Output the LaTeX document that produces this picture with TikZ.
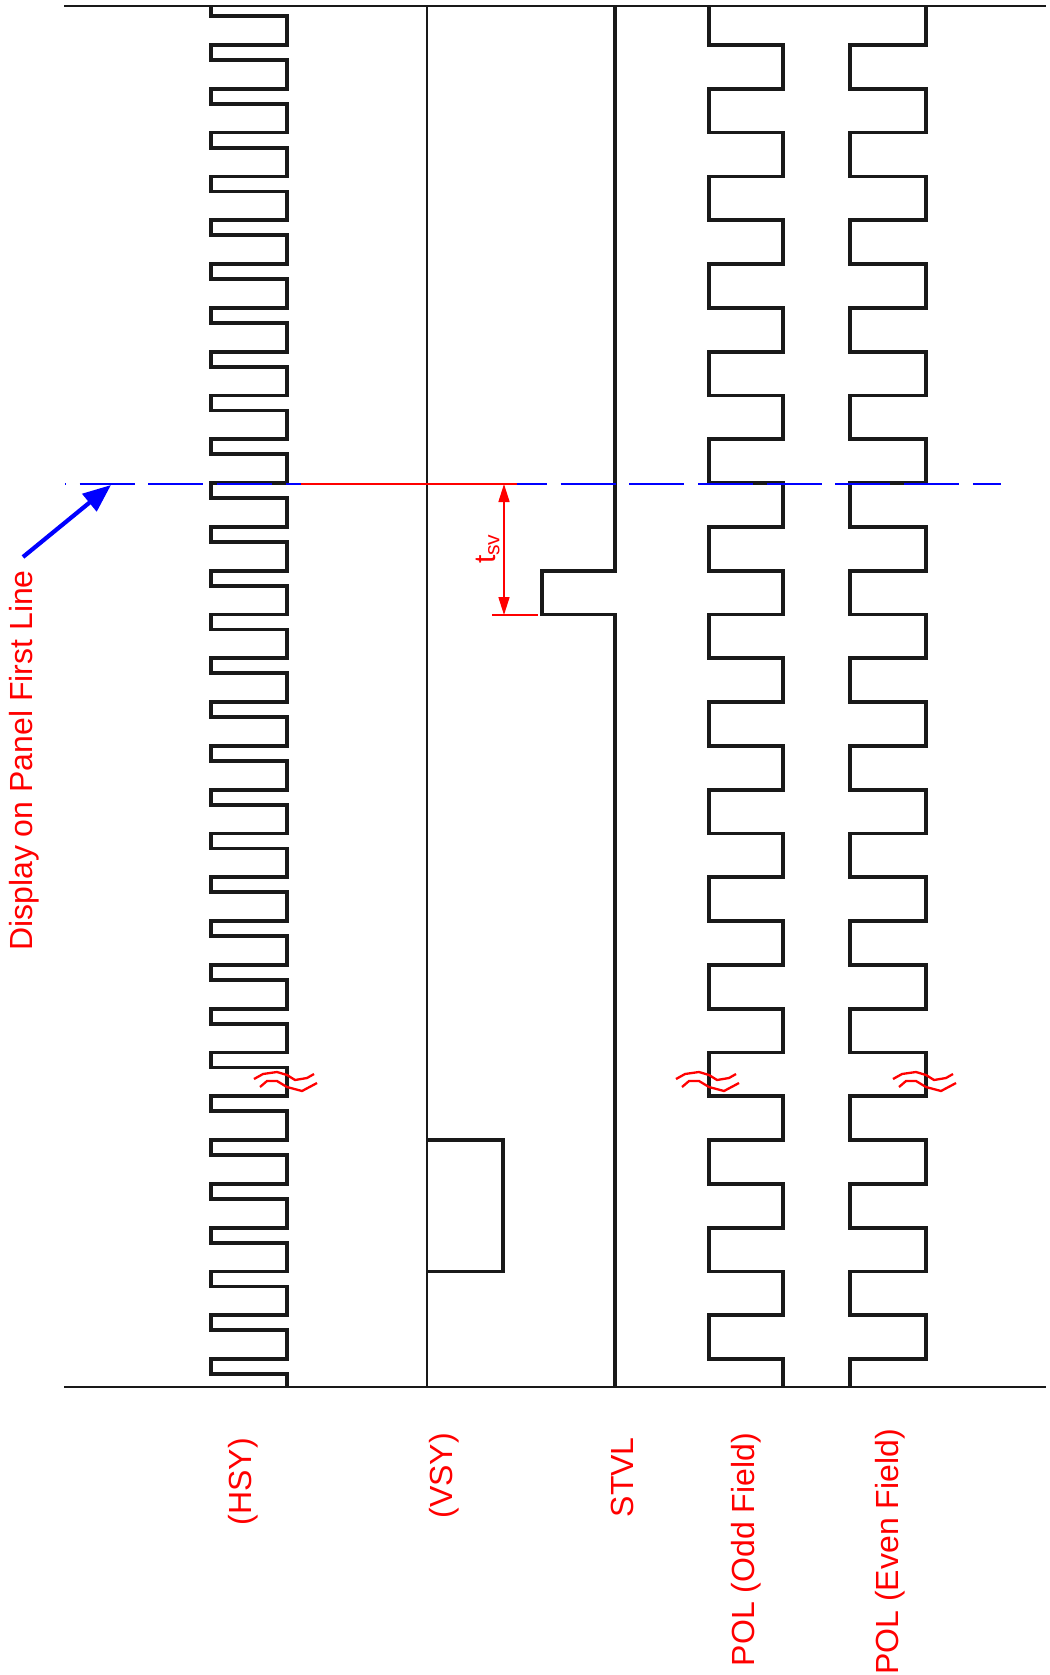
\documentclass[tikz,border=0pt]{standalone}
\usepackage{fontspec}
\setmainfont{Liberation Sans}
\usetikzlibrary{arrows.meta}
\usetikzlibrary{positioning}

\begin{document}
\begin{tikzpicture}[x=1pt, y=-1pt]
            \tikzset{wave/.style={line width=3.8pt, black!90},
                    frame/.style={line width=1.9pt, black!90},
                    sig/.style={red, rotate=90, anchor=base east, inner sep=0pt,
                                font=\fontsize{32}{38}\selectfont},
                    dim/.style={red, line width=1.6pt},
                    brk/.pic={
                        \draw[red, line width=2.3pt] (-33,4) -- (-24,-1) -- (-10,-3) -- (0,0) -- (8,5) -- (20,3) -- (27,-1);
                        \draw[red, line width=2.3pt] (-27,12) -- (-20,6) -- (-10,6) -- (0,12) -- (15,16) -- (30,8);
                    }}
            \useasboundingbox (0,0) rectangle (1049,1675);
            % frame
            \draw[frame] (64,6) -- (1046,6);
            \draw[frame] (64,1387) -- (1046,1387);
            % HSY
            \draw[wave] (211,6) -- (211,16) -- (287,16)
                \foreach \k in {0,...,30} {
                    -- (287,{45+43.8*\k}) -- (211,{45+43.8*\k}) -- (211,{60+43.8*\k}) -- (287,{60+43.8*\k})
                } -- (287,1387);
            % VSY
            \draw[frame] (427,6) -- (427,1387);
            \draw[wave] (427,1140) -- (503,1140) -- (503,1271.4) -- (427,1271.4);
            % STVL
            \draw[wave] (615,6) -- (615,570.6) -- (542,570.6) -- (542,614.4) -- (615,614.4) -- (615,1387);
            % POL odd / even
            \draw[wave] (709,6)
                \foreach \k in {0,2,...,28} {
                    -- (709,{45+43.8*\k}) -- (783,{45+43.8*\k}) -- (783,{88.8+43.8*\k}) -- (709,{88.8+43.8*\k})
                } -- (709,1359) -- (783,1359) -- (783,1387);
            \draw[wave] (926,6)
                \foreach \k in {0,2,...,28} {
                    -- (926,{45+43.8*\k}) -- (850,{45+43.8*\k}) -- (850,{88.8+43.8*\k}) -- (926,{88.8+43.8*\k})
                } -- (926,1359) -- (850,1359) -- (850,1387);
            % first line
            \draw[blue, line width=2pt, dash pattern=on 55pt off 13.7pt, dash phase=54pt] (65,484) -- (1001,484);
            \draw[dim, line width=2pt] (301,484) -- (517,484);
            \coordinate (svtop) at (504,484);
            \coordinate (svbot) at (504,615);
            \draw[dim, {Triangle[length=18pt,width=11pt]}-{Triangle[length=18pt,width=11pt]}] (svtop) -- (svbot);
            \draw[dim] (492,615) -- (538,615);
            \node[red, rotate=90, inner sep=0pt, font=\fontsize{30}{34}\selectfont] (tsv) at (488,549)
                {t\textsubscript{\fontsize{21}{24}\selectfont sv}};
            \node[sig] (disp) at (32,570) {Display on Panel First Line};
            \coordinate (tail) at (23,557);
            \coordinate (tip) at (111,485);
            \draw[blue, line width=4.2pt, -{Triangle[length=28pt,width=22pt]}] (tail) -- (tip);
            % breaks
            \pic at (287,1075) {brk};
            \pic at (709,1075) {brk};
            \pic at (926,1075) {brk};
            % names
            \node[sig] (hsy) at (251,1438) {(HSY)};
            \node[sig] (vsy) at (452,1433) {(VSY)};
            \node[sig] (stvl) at (633,1437) {STVL};
            \node[sig] (polodd) at (754,1433) {POL (Odd Field)};
            \node[sig] (poleven) at (898,1429) {POL (Even Field)};
        \end{tikzpicture}
\end{document}
